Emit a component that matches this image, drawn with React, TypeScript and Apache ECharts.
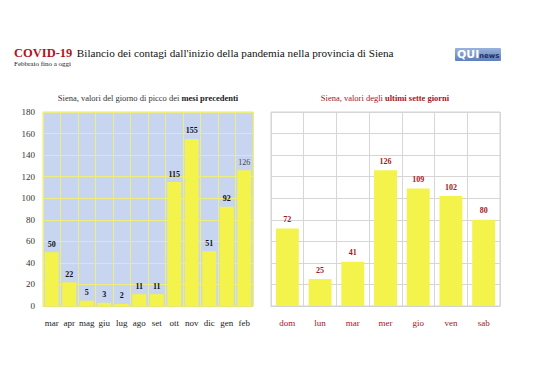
import React, { useEffect, useRef } from "react";
import * as echarts from "echarts";

const monthCategories = ["mar", "apr", "mag", "giu", "lug", "ago", "set", "ott", "nov", "dic", "gen", "feb"];
const monthValues = [50, 22, 5, 3, 2, 11, 11, 115, 155, 51, 92, 126];
const dayCategories = ["dom", "lun", "mar", "mer", "gio", "ven", "sab"];
const dayValues = [72, 25, 41, 126, 109, 102, 80];
const yTicks = { min: 0, max: 180, interval: 20 };

const SERIF = "'Liberation Serif', 'DejaVu Serif', serif";

export default function App() {
  const ref = useRef<HTMLDivElement>(null);
  useEffect(() => {
    if (!ref.current) return;
    const chart = echarts.init(ref.current, null, { renderer: "svg" });
    const option: any = {
      animation: false,
      backgroundColor: "#ffffff",
      textStyle: { fontFamily: SERIF },
      title: [
        {
          text: "{r|COVID-19} {b|Bilancio dei contagi dall'inizio della pandemia nella provincia di Siena}",
          left: 14,
          top: 44,
          padding: 0,
          textStyle: {
            fontWeight: "normal",
            rich: {
              r: { fontFamily: SERIF, fontSize: 12.5, fontWeight: "bold", color: "#b3131b" },
              b: { fontFamily: SERIF, fontSize: 11.2, fontWeight: "normal", color: "#111" },
            },
          },
        },
        {
          text: "Febbraio fino a oggi",
          left: 14,
          top: 60,
          padding: 0,
          textStyle: { fontFamily: SERIF, fontSize: 7, fontWeight: "normal", color: "#222" },
        },
        {
          text: "Siena, valori del giorno di picco dei {b|mesi precedenti}",
          left: 148,
          textAlign: "center",
          top: 93,
          padding: 0,
          textStyle: {
            fontFamily: SERIF,
            fontSize: 8.5,
            fontWeight: "normal",
            color: "#333",
            rich: { b: { fontFamily: SERIF, fontSize: 8.5, fontWeight: "bold", color: "#222" } },
          },
        },
        {
          text: "Siena, valori degli {b|ultimi sette giorni}",
          left: 385,
          textAlign: "center",
          top: 93,
          padding: 0,
          textStyle: {
            fontFamily: SERIF,
            fontSize: 8.5,
            fontWeight: "normal",
            color: "#a8141c",
            rich: { b: { fontFamily: SERIF, fontSize: 8.5, fontWeight: "bold", color: "#a8141c" } },
          },
        },
      ],
      graphic: [
        {
          type: "rect",
          left: 455,
          top: 48,
          shape: { width: 46, height: 13, r: 1 },
          style: {
            fill: new echarts.graphic.LinearGradient(0, 0, 0, 1, [
              { offset: 0, color: "#9ab2dc" },
              { offset: 1, color: "#5f7fbd" },
            ]),
          },
        },
        {
          type: "text",
          left: 457,
          top: 49,
          style: { text: "QUI", font: "bold 11px 'DejaVu Sans', sans-serif", fill: "#ffffff" },
        },
        {
          type: "text",
          left: 479,
          top: 52,
          style: { text: "news", font: "bold 7px 'DejaVu Sans', sans-serif", fill: "#1d2f63" },
        },
      ],
      grid: [
        { left: 43, right: 285, top: 112, bottom: 74, show: true, backgroundColor: "#c8d5f1", borderColor: "#e6e67a", borderWidth: 1 },
        { left: 271, right: 38, top: 112, bottom: 74, show: true, backgroundColor: "#ffffff", borderColor: "#d2d2d2", borderWidth: 1 },
      ],
      xAxis: [
        {
          type: "category",
          gridIndex: 0,
          data: monthCategories,
          axisLine: { show: true, lineStyle: { color: "#e6e67a" } },
          axisTick: { show: false },
          splitLine: { show: true, interval: 0, lineStyle: { color: "#eeee7e", width: 1 } },
          axisLabel: { interval: 0, fontFamily: SERIF, fontSize: 9, color: "#222", margin: 12 },
        },
        {
          type: "category",
          gridIndex: 1,
          data: dayCategories,
          axisLine: { show: true, lineStyle: { color: "#d2d2d2" } },
          axisTick: { show: false },
          splitLine: { show: true, interval: 0, lineStyle: { color: "#d6d6d6", width: 1 } },
          axisLabel: { interval: 0, fontFamily: SERIF, fontSize: 9, color: "#a8141c", margin: 12 },
        },
      ],
      yAxis: [
        {
          type: "value",
          gridIndex: 0,
          ...yTicks,
          axisLine: { show: false },
          axisTick: { show: false },
          splitLine: { show: true, lineStyle: { color: "#eeee7e", width: 1 } },
          axisLabel: { fontFamily: SERIF, fontSize: 9, color: "#333", margin: 8 },
        },
        {
          type: "value",
          gridIndex: 1,
          ...yTicks,
          axisLine: { show: false },
          axisTick: { show: false },
          splitLine: { show: true, lineStyle: { color: "#d6d6d6", width: 1 } },
          axisLabel: { show: false },
        },
      ],
      series: [
        {
          type: "bar",
          xAxisIndex: 0,
          yAxisIndex: 0,
          barWidth: "80%",
          itemStyle: { color: "#f3f34c" },
          label: {
            show: true,
            position: "top",
            distance: 4,
            fontFamily: SERIF,
            fontSize: 8,
            fontWeight: "bold",
            color: "#111",
          },
          data: monthValues.map((v, i) =>
            i === monthValues.length - 1
              ? { value: v, label: { fontWeight: "normal", color: "#444" } }
              : v
          ),
        },
        {
          type: "bar",
          xAxisIndex: 1,
          yAxisIndex: 1,
          barWidth: "70%",
          itemStyle: { color: "#f3f34c" },
          label: {
            show: true,
            position: "top",
            distance: 5,
            fontFamily: SERIF,
            fontSize: 8,
            fontWeight: "bold",
            color: "#a8141c",
          },
          data: dayValues,
        },
      ],
    };
    chart.setOption(option);
    return () => chart.dispose();
  }, []);
  return <div ref={ref} style={{ width: 538, height: 380, margin: -8 }} />;
}
